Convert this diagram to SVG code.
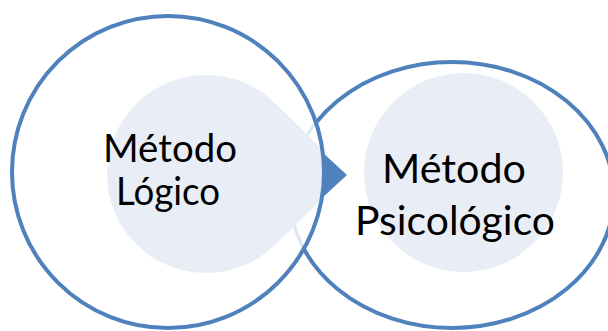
<svg xmlns="http://www.w3.org/2000/svg" width="608" height="331" viewBox="0 0 608 331">
<defs>
<style>
.ring{fill:#FFFFFF;stroke:#4F81BD;stroke-width:4}
.inner{fill:#E9EEF6}
.lbl{font-family:Lato,"Open Sans",sans-serif;fill:#000000}
</style>
<clipPath id="leftClip"><circle cx="168" cy="172" r="154"/></clipPath>
</defs>
<g id="node-psicologico">
<ellipse class="ring" cx="452" cy="195" rx="162" ry="133"/>
<circle class="inner" cx="463.5" cy="172.5" r="99.5"/>
</g>
<g id="node-logico">
<circle cx="168" cy="172" r="156" fill="#FFFFFF"/>
<ellipse cx="452" cy="195" rx="162" ry="133" fill="none" stroke="#DDE5F1" stroke-width="3" clip-path="url(#leftClip)"/>
<path class="inner" clip-path="url(#leftClip)" d="M275.5,103.5 L347,174 L275.5,244.5 A99,99 0 1 1 275.5,103.5 Z"/>
<circle cx="168" cy="172" r="156" fill="none" stroke="#4F81BD" stroke-width="4"/>
</g>
<g id="connectors">
<polygon points="322,152 347,175 322,198" fill="#4F81BD"/>
</g>
<g id="labels">
<text class="lbl" x="103" y="162" font-size="38" textLength="134" lengthAdjust="spacingAndGlyphs">Método</text>
<text class="lbl" x="116" y="205" font-size="38" textLength="104" lengthAdjust="spacingAndGlyphs">Lógico</text>
<text class="lbl" x="382" y="183" font-size="40" textLength="144" lengthAdjust="spacingAndGlyphs">Método</text>
<text class="lbl" x="355" y="235" font-size="40" textLength="200" lengthAdjust="spacingAndGlyphs">Psicológico</text>
</g>
</svg>
